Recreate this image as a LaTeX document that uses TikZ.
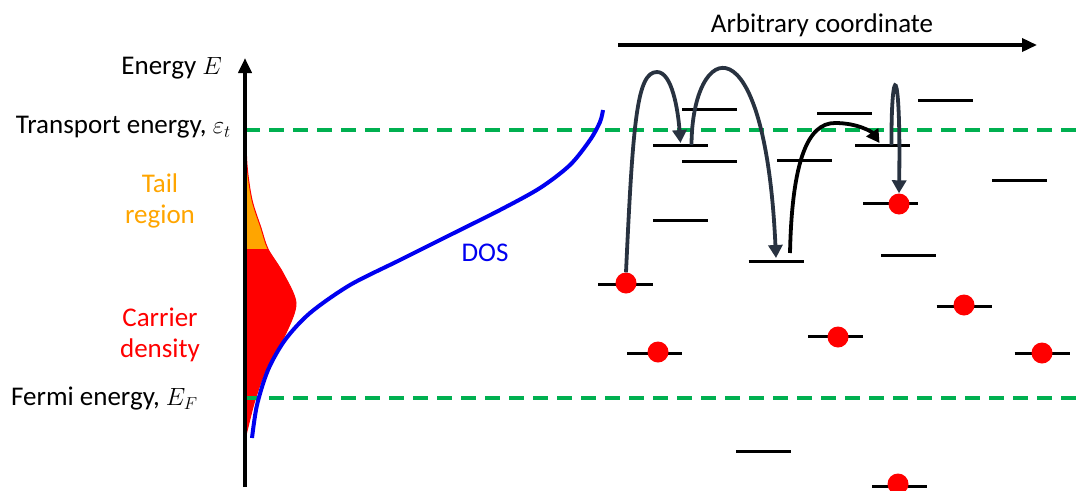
\documentclass[tikz,border=0pt]{standalone}
\usepackage{fontspec}
\setmainfont{Carlito}
\usepackage{tikz}
\usetikzlibrary{arrows.meta}
\definecolor{ink}{RGB}{0,0,0}
\definecolor{hopgray}{RGB}{40,50,64}
\definecolor{fermigreen}{RGB}{0,176,80}
\definecolor{tailorange}{RGB}{255,165,0}
\definecolor{dosblue}{RGB}{0,0,240}
\tikzset{
  lbl/.style={font=\fontsize{27}{31}\selectfont,inner sep=0pt,align=center},
  eaxis/.style={line width=4pt,-{Triangle[length=15pt,width=13pt]}},
  level/.style={line width=3pt,ink},
  dot/.style={circle,fill=red,inner sep=0pt,minimum size=21pt},
  hop/.style={line width=3.8pt,hopgray,-{Triangle[length=13pt,width=14pt]}},
  hopblack/.style={hop,ink},
  edash/.style={line width=3.5pt,fermigreen,dash pattern=on 15pt off 9pt},
}

\begin{document}
\begin{tikzpicture}[x=1pt,y=-1pt]
  \useasboundingbox (0,0) rectangle (1083,490);

  % carrier density: tail part orange, rest red
  \begin{scope}
    \clip (245,100) rectangle (320,249);
    \fill[tailorange] plot[smooth] coordinates {(245,112) (247,165) (252,200) (261,228) (268,249) (283,273) (296,303) (286,333) (267,367) (255,400) (248,427) (245,440)};
  \end{scope}
  \begin{scope}
    \clip (245,249) rectangle (320,450);
    \fill[red] plot[smooth] coordinates {(245,112) (247,165) (252,200) (261,228) (268,249) (283,273) (296,303) (286,333) (267,367) (255,400) (248,427) (245,440)};
  \end{scope}
  \draw[red,line width=1pt] plot[smooth] coordinates {(245,112) (247,165) (252,200) (261,228) (268,249) (283,273) (296,303) (286,333) (267,367) (255,400) (248,427) (245,440)};

  % energy levels
  \coordinate (tl) at (245,130);  \coordinate (tr) at (1083,130);
  \coordinate (fl) at (245,398);  \coordinate (fr) at (1083,398);
  \draw[edash] (tl) -- (tr);
  \draw[edash] (fl) -- (fr);

  % DOS
  \draw[dosblue,line width=4pt] plot[smooth] coordinates {(252,438) (257,405) (268,370) (285,340) (310,313) (350,285) (400,260) (450,235) (500,210) (540,188) (570,165) (590,140) (600,122) (603,110)};

  % axis
  \coordinate (ebot) at (245,487);
  \coordinate (etop) at (245,58);
  \draw[eaxis] (ebot) -- (etop);

  \node[lbl,anchor=east] (elbl) at (222,68) {Energy $E$};
  \node[lbl,anchor=east] (tlbl) at (231,127) {Transport energy, $\varepsilon_t$};
  \node[lbl,anchor=west] (flbl) at (11,399) {Fermi energy, $E_F$};
  \node[lbl,text=tailorange] (tail) at (160,201) {Tail\\region};
  \node[lbl,text=red] (carr) at (160,335) {Carrier\\density};
  \node[lbl,text=dosblue] (dos) at (485,253) {DOS};

  % arbitrary coordinate
  \node[lbl] (arb) at (822,25) {Arbitrary coordinate};
  \coordinate (cstart) at (618,45);
  \coordinate (cend) at (1037,45);
  \draw[eaxis,line width=3.5pt] (cstart) -- (cend);

  % localized states
  \foreach \n/\x/\y in {1/625.5/284, 2/680.5/145, 3/709.5/109, 4/709.5/161,
      5/680.5/220, 6/776/261, 7/804.5/160, 8/844.5/113, 9/882.5/145,
      10/945.5/100, 11/1019.5/180, 12/890.5/203, 13/908.5/255, 14/964/306,
      15/654.5/353, 16/835.5/336, 17/1042/353, 18/763.5/451, 19/899.5/486}{
    \coordinate (l\n) at (\x,\y);
    \draw[level] ([xshift=-27.5pt]l\n) -- ([xshift=27.5pt]l\n);
  }

  % occupied states
  \node[dot] (d1) at (626,283) {};
  \node[dot] (d12) at (899,204) {};
  \node[dot] (d14) at (964,305) {};
  \node[dot] (d15) at (658,352) {};
  \node[dot] (d16) at (838,337) {};
  \node[dot] (d17) at (1042,353) {};
  \node[dot] (d19) at (898,484) {};

  % hops
  \draw[hop] (d1.north) .. controls (633,120) and (637,72) .. (657,72)
    .. controls (672,72) and (678,110) .. ([yshift=2pt]l2);
  \draw[hop] ([xshift=11pt]l2) .. controls (692,40) and (765,15) .. ([yshift=3pt]l6);
  \draw[hopblack] ([xshift=14pt,yshift=8pt]l6) .. controls (792,160) and (808,123) .. (835,123)
    .. controls (858,123) and (872,132) .. ([xshift=-3pt,yshift=2pt]l9);
  \draw[hop] ([xshift=9pt]l9) .. controls (891,60) and (901,60) .. (d12.north);
\end{tikzpicture}
\end{document}
